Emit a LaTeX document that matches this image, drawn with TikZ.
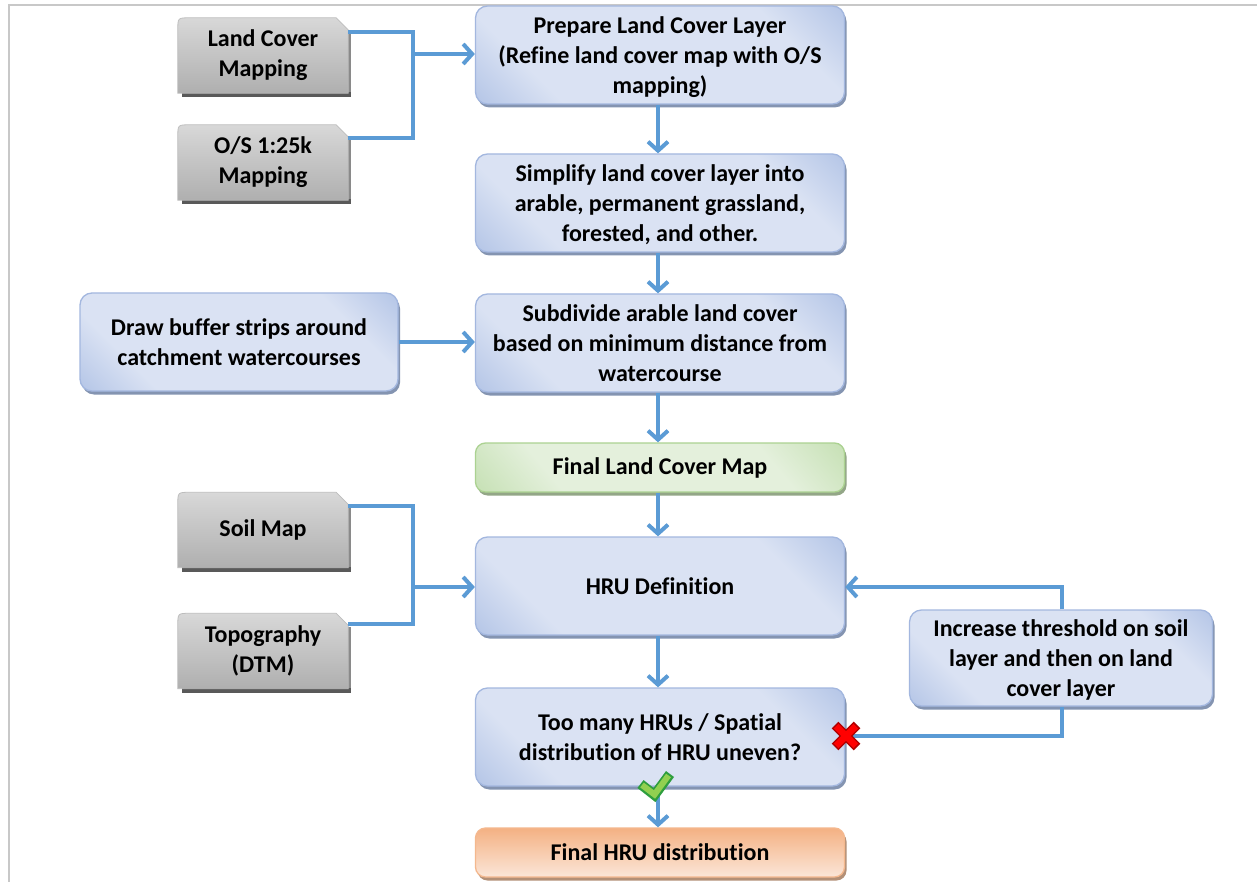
\documentclass[tikz,border=0pt]{standalone}
\usepackage{fontspec}
\setmainfont{Carlito}[Ligatures=NoCommon]
\usetikzlibrary{arrows.meta,shadows,calc,backgrounds}

% palette
\definecolor{link}{HTML}{5B9BD5}
\definecolor{blight}{HTML}{DAE2F3}
\definecolor{bdark}{HTML}{8BA6D9}
\definecolor{bedge}{HTML}{A3B7DF}
\definecolor{bshadow}{HTML}{8494B1}
\definecolor{glight}{HTML}{E4F0DC}
\definecolor{gdark}{HTML}{A9D18E}
\definecolor{gedge}{HTML}{ABD291}
\definecolor{gshadow}{HTML}{93A687}
\definecolor{olight}{HTML}{FBE6D8}
\definecolor{odark}{HTML}{F4B183}
\definecolor{oedge}{HTML}{F4B88E}
\definecolor{oshadow}{HTML}{B39077}
\definecolor{srctop}{HTML}{D8D8D8}
\definecolor{srcbot}{HTML}{AFAFAF}
\definecolor{srcedge}{HTML}{BDBDBD}
\definecolor{srcshadow}{HTML}{595959}
\definecolor{srcside}{HTML}{8A8A8A}
\definecolor{frame}{HTML}{C8C8C8}
\definecolor{okfill}{HTML}{92D050}
\definecolor{okedge}{HTML}{2E9E3E}
\definecolor{nofill}{HTML}{FF0000}
\definecolor{noedge}{HTML}{B00000}

\pgfdeclarehorizontalshading{blueshade}{100bp}{color(0bp)=(bdark); color(28bp)=(blight); color(72bp)=(blight); color(100bp)=(bdark)}
\pgfdeclarehorizontalshading{greenshade}{100bp}{color(0bp)=(gdark); color(30bp)=(glight); color(70bp)=(glight); color(100bp)=(gdark)}

\tikzset{
  boxtext/.style={font=\bfseries\fontsize{24}{30}\selectfont, align=center, inner sep=0pt},
  procbox/.style={boxtext, text depth=0pt, rectangle, rounded corners=12pt, draw=bedge, line width=1.3pt,
    shading=blueshade, shading angle=45,
    drop shadow={shadow xshift=2pt, shadow yshift=-3.5pt, fill=bshadow, opacity=1},
    minimum height=98pt},
  resultbox/.style={boxtext, rectangle, rounded corners=10pt, line width=1.3pt,
    minimum width=369pt, minimum height=49pt},
  landbox/.style={resultbox, draw=gedge, shading=greenshade, shading angle=40,
    drop shadow={shadow xshift=2pt, shadow yshift=-3.5pt, fill=gshadow, opacity=1}},
  hrubox/.style={resultbox, draw=oedge, top color=odark, bottom color=olight,
    drop shadow={shadow xshift=2pt, shadow yshift=-3.5pt, fill=oshadow, opacity=1}},
  srcbox/.style={boxtext, rectangle, minimum width=170pt, minimum height=75pt},
  link/.style={draw=link, line width=4pt},
  flow/.style={link, -{Straight Barb[length=9pt,width=20pt]}},
}

% grey data-source tab: round top-left, clipped top-right, square bottom
\newcommand\srcshape[1]{%
  \fill[srcside] ($(#1.north east)+(0,14)$) rectangle ($(#1.south east)+(2.5,0)$);
  \fill[srcshadow] ($(#1.south west)+(4,-1)$) rectangle ($(#1.south east)+(2.5,4)$);
  \shade[top color=srctop, bottom color=srcbot, draw=srcedge, line width=0.8pt]
    (#1.south west) -- ($(#1.north west)+(0,12)$)
    .. controls (#1.north west) .. ($(#1.north west)+(12,0)$)
    -- ($(#1.north east)+(-12,0)$) -- ($(#1.north east)+(0,12)$)
    -- (#1.south east) -- cycle;
}

\begin{document}
\begin{tikzpicture}[x=1pt, y=-1pt]
\useasboundingbox (0,0) rectangle (1257,882);

% data sources
\node[srcbox] (lcm)  at (263,55.5)  {Land Cover\\Mapping};
\node[srcbox] (os)   at (263,162.5) {O/S 1:25k\\Mapping};
\node[srcbox] (soil) at (263,530)   {Soil Map};
\node[srcbox] (topo) at (263,651)   {Topography\\(DTM)};
\begin{scope}[on background layer]
  \fill[white] (0,0) rectangle (1257,882);
  % page frame (top and left rules)
  \draw[frame, line width=2pt] (8.5,882) -- (8.5,5) -- (1257,5);
  \srcshape{lcm}
  \srcshape{os}
  \srcshape{soil}
  \srcshape{topo}
\end{scope}

% processing steps
\node[procbox, minimum width=369pt] (prep) at (660,55)
  {Prepare Land Cover Layer\\(Refine land cover map with O/S\\mapping)};
\node[procbox, minimum width=369pt] (simp) at (660,203)
  {Simplify land cover layer into\\arable, permanent grassland,\\forested, and other.};
\node[procbox, minimum width=318pt] (buf) at (239,342)
  {Draw buffer strips around\\catchment watercourses};
\node[procbox, minimum width=369pt] (sub) at (660,343)
  {Subdivide arable land cover\\based on minimum distance from\\watercourse};
\node[landbox] (flc) at (660,467.5) {Final Land Cover Map};
\node[procbox, minimum width=369pt] (hru) at (660,586) {HRU Definition};
\node[procbox, minimum width=303pt, minimum height=96pt] (inc) at (1061,658)
  {Increase threshold on soil\\layer and then on land\\cover layer};
\node[procbox, minimum width=369pt] (chk) at (660,737)
  {Too many HRUs / Spatial\\distribution of HRU uneven?};
\node[hrubox] (fhru) at (660,852.5) {Final HRU distribution};

% junctions of merging inputs
\coordinate (jtop) at (413,54);
\coordinate (jbot) at (413,587);
\coordinate (jloop) at (1062,587);

\draw[link] ($(lcm.north east)+(0,14)$) -| (jtop);
\draw[link] ($(os.north east)+(0,13)$) -| (jtop);
\draw[flow] (jtop) -- (prep.west |- jtop);

\draw[flow] (prep.south -| 658,0) -- (simp.north -| 658,0);
\draw[flow] (simp.south -| 658,0) -- (sub.north -| 658,0);
\draw[flow] (buf.east) -- (sub.west |- buf.east);
\draw[flow] (sub.south -| 658,0) -- (flc.north -| 658,0);
\draw[flow] (flc.south -| 658,0) -- (hru.north -| 658,0);

\draw[link] ($(soil.north east)+(0,14)$) -| (jbot);
\draw[link] ($(topo.north east)+(0,11)$) -| (jbot);
\draw[flow] (jbot) -- (hru.west |- jbot);

\draw[flow] (hru.south -| 658,0) -- (chk.north -| 658,0);
\draw[flow] (chk.south -| 658,0) -- (fhru.north -| 658,0);

% rejection loop back to HRU definition
\draw[link] (chk.east |- 0,736) -| (inc.south -| jloop);
\draw[flow] (inc.north -| jloop) -- (jloop) -- (hru.east |- jloop);

% accept / reject marks
\draw[okedge, line width=10pt, line join=miter, line cap=butt]
  (640.5,784) -- (654.5,795) -- (670,774);
\draw[okfill, line width=6pt, line join=miter, line cap=butt]
  (642,785) -- (654.5,794.5) -- (668.5,775.5);
\draw[noedge, line width=9.5pt, line cap=butt]
  (835,725) -- (857,747) (857,725) -- (835,747);
\draw[nofill, line width=6.5pt, line cap=butt]
  (836.2,726.2) -- (855.8,745.8) (855.8,726.2) -- (836.2,745.8);
\end{tikzpicture}
\end{document}
